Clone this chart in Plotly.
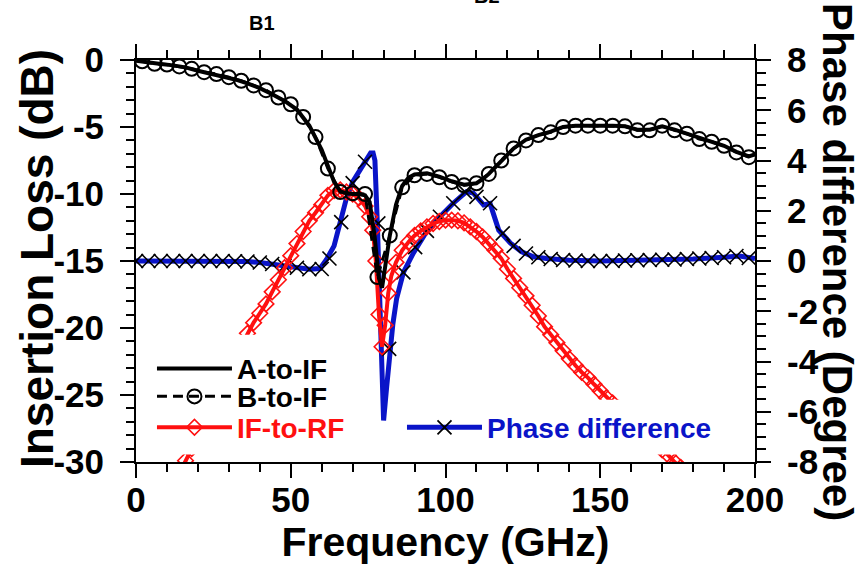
import plotly.graph_objects as go

# ---------------- data ----------------
# A-to-IF (dense solid line), dB
freq_a = [0, 4, 8, 12, 16, 20, 24, 28, 32, 36, 40, 44, 48, 52, 56, 60, 62, 64, 66, 68, 70, 72, 74,
          75.5, 77, 78.5, 79.5, 80.5, 82, 84, 86, 88, 90, 94, 98, 102, 106, 110, 112, 114, 118, 122,
          126, 130, 134, 138, 142, 146, 150, 154, 158, 162, 166, 170, 174, 178, 182, 186, 190, 194, 198, 200]
loss_a = [-0.05, -0.2, -0.3, -0.4, -0.55, -0.8, -1.0, -1.2, -1.45, -1.75, -2.1, -2.55, -3.05, -3.7, -4.9,
          -6.7, -8.0, -9.1, -9.8, -9.95, -10.0, -10.0, -10.1, -10.6, -13.0, -16.3, -17.0, -15.5, -13.1,
          -10.8, -9.4, -8.8, -8.55, -8.45, -8.7, -9.05, -9.3, -9.2, -8.9, -8.5, -7.5, -6.6, -5.95, -5.6,
          -5.35, -5.0, -4.9, -4.88, -4.88, -4.9, -4.95, -5.2, -5.2, -4.95, -5.2, -5.5, -5.85, -6.1, -6.4,
          -6.85, -7.2, -7.05]

# B-to-IF (dashed, open circles), dB
freq_b = [2, 6, 10, 14, 18, 22, 26, 30, 34, 38, 42, 46, 50, 54, 58, 62, 66, 70, 74, 78, 82, 86, 90, 94,
          98, 102, 106, 110, 114, 118, 122, 126, 130, 134, 138, 142, 146, 150, 154, 158, 162, 166, 170,
          174, 178, 182, 186, 190, 194, 198]
loss_b = [-0.1, -0.28, -0.34, -0.48, -0.66, -0.91, -1.05, -1.28, -1.55, -1.9, -2.25, -2.8, -3.3, -4.25,
          -5.75, -8.1, -9.85, -9.95, -10.0, -16.2, -13.1, -9.5, -8.6, -8.5, -8.75, -9.1, -9.35, -9.2,
          -8.5, -7.5, -6.6, -6.0, -5.6, -5.4, -5.0, -4.9, -4.9, -4.9, -4.9, -4.95, -5.25, -5.25, -4.9,
          -5.25, -5.5, -5.9, -6.1, -6.4, -6.9, -7.25]

# IF-to-RF (red, open diamonds), dB
freq_rf = [12, 14, 16, 18, 20, 22, 24, 26, 28, 30, 32, 34, 36, 38, 40, 42, 44, 46, 48, 50, 52, 54, 56,
           58, 60, 62, 64, 66, 68, 70, 72, 74, 75.5, 76.5, 77.5, 78.5, 79.5, 80.5, 81.5, 82.5, 84, 86,
           88, 90, 92, 94, 96, 98, 100, 102, 104, 106, 108, 110, 112, 114, 116, 118, 120, 122, 124, 126,
           128, 130, 132, 134, 136, 138, 140, 142, 144, 146, 148, 150, 152, 154, 156, 158, 160, 162,
           164, 166, 168, 170, 172, 174, 176, 178]
loss_rf = [-31.8, -30.9, -29.9, -29.0, -28.0, -27.0, -26.0, -25.0, -24.0, -23.1, -22.2, -21.3, -20.4,
           -19.6, -18.9, -18.2, -17.3, -16.4, -15.5, -14.6, -13.7, -12.8, -12.0, -11.4, -10.8, -10.1,
           -9.75, -9.7, -9.85, -10.0, -10.3, -10.9, -11.7, -12.7, -15.0, -19.0, -21.4, -19.8, -17.4,
           -16.1, -15.1, -14.2, -13.6, -13.1, -12.75, -12.45, -12.2, -12.05, -11.95, -11.95, -12.0,
           -12.15, -12.45, -12.8, -13.2, -13.7, -14.2, -14.8, -15.6, -16.3, -17.0, -17.6, -18.3, -19.1,
           -19.9, -20.5, -21.1, -21.7, -22.3, -22.8, -23.3, -23.7, -24.2, -24.7, -25.2, -25.6, -26.0,
           -26.4, -26.9, -27.3, -27.8, -28.2, -28.6, -29.1, -29.5, -30.0, -30.4, -30.9]

# Phase difference (blue line), degree
freq_ph = [0, 10, 20, 30, 36, 40, 44, 48, 52, 56, 59.5, 61.5, 64, 66, 68, 70, 73, 75.8, 76.6, 77.2, 78,
           79, 80, 81, 82, 83, 84.2, 86.4, 89.6, 94, 98.2, 102.5, 106.8, 109, 112.3, 114.4, 117.2, 121,
           124.6, 128.4, 132.6, 140, 150, 160, 170, 180, 190, 195, 200]
phase = [0.0, 0.0, 0.0, 0.0, -0.02, -0.06, -0.12, -0.2, -0.27, -0.33, -0.3, 0.05, 0.6, 1.6, 2.5, 3.15,
         3.75, 4.3, 4.3, 4.0, 1.4, -2.4, -6.35, -5.0, -3.6, -2.5, -1.5, -0.45, 0.31, 1.2, 1.76, 2.3,
         2.76, 2.7, 2.23, 2.29, 1.23, 0.71, 0.37, 0.17, 0.1, 0.03, 0.0, 0.02, 0.05, 0.08, 0.15, 0.2, 0.1]

# Phase difference markers (x)
freq_phm = [0, 4, 8, 12, 16, 20, 24, 28, 32, 36, 40, 44, 48, 52, 56, 60, 62.5, 66.3, 70, 74, 78.3,
            81.8, 86.4, 90.2, 94, 98.2, 102.5, 106.3, 110, 114.4, 118.5, 122, 126, 130, 134, 138, 142,
            146, 150, 154, 158, 162, 166, 170, 174, 178, 182, 186, 190, 194, 198]
phase_m = [0.0, 0.0, 0.0, 0.0, 0.0, 0.0, 0.0, 0.0, -0.01, -0.02, -0.06, -0.12, -0.2, -0.27, -0.33, -0.32,
           0.1, 1.55, 3.1, 3.95, 1.5, -3.5, -0.45, 0.55, 1.2, 1.76, 2.3, 2.75, 2.55, 2.3, 1.1, 0.6, 0.3,
           0.15, 0.08, 0.04, 0.02, 0.0, 0.0, 0.0, 0.02, 0.03, 0.04, 0.05, 0.06, 0.08, 0.1, 0.12, 0.15,
           0.2, 0.12]

# tick labels
freq_ticks = [0, 50, 100, 150, 200]
freq_labels = ["0", "50", "100", "150", "200"]
loss_ticks = [0, -5, -10, -15, -20, -25, -30]
loss_labels = ["0", "-5", "-10", "-15", "-20", "-25", "-30"]
phase_ticks = [8, 6, 4, 2, 0, -2, -4, -6, -8]
phase_labels = ["8", "6", "4", "2", "0", "-2", "-4", "-6", "-8"]

FONT = "Liberation Sans, Arial, sans-serif"
BLUE = "#0a14c8"
RED = "#ff1010"

fig = go.Figure()

# phase traces on base axis (y, right side), drawn beneath loss traces
fig.add_trace(go.Scatter(x=freq_ph, y=phase, mode="lines", yaxis="y", showlegend=False,
                         line=dict(color=BLUE, width=5)))
fig.add_trace(go.Scatter(x=freq_phm, y=phase_m, mode="markers", yaxis="y", showlegend=False,
                         marker=dict(symbol="x-thin", size=14, color="black",
                                     line=dict(color="black", width=1.6))))

# loss traces on y2 (left side)
fig.add_trace(go.Scatter(x=freq_rf, y=loss_rf, mode="lines+markers", yaxis="y2", name="IF-to-RF",
                         legend="legend3",
                         line=dict(color=RED, width=4),
                         marker=dict(symbol="diamond-open", size=12, color=RED,
                                     line=dict(color=RED, width=1.6))))
fig.add_trace(go.Scatter(x=freq_b, y=loss_b, mode="lines+markers", yaxis="y2", name="B-to-IF",
                         legend="legend2",
                         line=dict(color="black", width=3, dash="10px,6px"),
                         marker=dict(symbol="circle-open", size=14, color="black",
                                     line=dict(color="black", width=2))))
fig.add_trace(go.Scatter(x=freq_a, y=loss_a, mode="lines", yaxis="y2", name="A-to-IF",
                         legend="legend", line=dict(color="black", width=4)))

# legend entry for phase difference (also hosts the top frequency axis)
fig.add_trace(go.Scatter(x=[None], y=[None], mode="lines+markers", xaxis="x2", yaxis="y",
                         name="Phase difference", legend="legend4",
                         line=dict(color=BLUE, width=5),
                         marker=dict(symbol="x-thin", size=14, color="black",
                                     line=dict(color="black", width=1.8))))


def leg(y, color, x=0.0258):
    return dict(x=x, y=y, xanchor="left", yanchor="middle", bgcolor="rgba(0,0,0,0)", borderwidth=0,
                itemwidth=75, font=dict(family=FONT, size=28, color=color, weight="bold"))


def axis_common():
    return dict(showgrid=False, zeroline=False, showline=True, linecolor="black", linewidth=2,
                ticks="outside", ticklen=14, tickwidth=2, tickcolor="black", automargin=False,
                tickfont=dict(family=FONT, size=35, weight="bold"))


fig.update_layout(
    width=864, height=565,
    margin=dict(l=136, r=109, t=59.5, b=102.5, pad=0, autoexpand=False),
    paper_bgcolor="white", plot_bgcolor="white",
    font=dict(family=FONT, color="black"),
    legend=leg(0.232, "black"),
    legend2=leg(0.1625, "black"),
    legend3=leg(0.0856, RED),
    legend4=leg(0.0856, BLUE, x=0.4297),
    xaxis=dict(**axis_common(), range=[0, 200], tickmode="array", tickvals=freq_ticks, ticktext=freq_labels,
               ticklabelstandoff=-8,
               minor=dict(tick0=0, dtick=10, ticks="outside", ticklen=8, tickwidth=1.5, tickcolor="black"),
               title=dict(text="Frequency (GHz)", standoff=12,
                          font=dict(family=FONT, size=41, weight="bold"))),
    xaxis2=dict(range=[0, 200], overlaying="x", side="top", anchor="y", automargin=False,
                showgrid=False, zeroline=False, showline=True, linecolor="black", linewidth=2,
                tickmode="linear", tick0=0, dtick=50, ticks="outside", ticklen=14, tickwidth=2,
                tickcolor="black", showticklabels=False,
                minor=dict(tick0=0, dtick=10, ticks="outside", ticklen=8, tickwidth=1.5, tickcolor="black")),
    yaxis=dict(**axis_common(), range=[-8, 8], side="right", tickmode="array", tickvals=phase_ticks,
               ticktext=phase_labels, ticklabelstandoff=9,
               minor=dict(tick0=0, dtick=0.5, ticks="outside", ticklen=9, tickwidth=1.5, tickcolor="black")),
    yaxis2=dict(**axis_common(), range=[-30, 0], side="left", overlaying="y", tickmode="array",
                tickvals=loss_ticks, ticktext=loss_labels, ticklabelstandoff=9,
                minor=dict(tick0=0, dtick=1, ticks="outside", ticklen=8, tickwidth=1.5, tickcolor="black")),
    shapes=[
        # white backgrounds behind the two legend blocks
        dict(type="rect", xref="paper", yref="paper", x0=0.0226, x1=0.378, y0=0.0186, y1=0.3164,
             fillcolor="white", line=dict(width=0), layer="above"),
        dict(type="rect", xref="paper", yref="paper", x0=0.4233, x1=0.9564, y0=0.0186, y1=0.1551,
             fillcolor="white", line=dict(width=0), layer="above"),
    ],
    annotations=[
        dict(text="Insertion Loss (dB)", xref="paper", yref="paper", x=-0.1599, y=0.505,
             xanchor="center", yanchor="middle", textangle=-90, showarrow=False,
             font=dict(family=FONT, size=46, weight="bold", color="black")),
        dict(text="Phase difference (Degree)", xref="paper", yref="paper", x=1.1341, y=0.4975,
             xanchor="center", yanchor="middle", textangle=90, showarrow=False,
             font=dict(family=FONT, size=42, weight="bold", color="black")),
        dict(text="B1", xref="paper", yref="paper", x=0.2036, y=1.093, xanchor="center",
             yanchor="middle", showarrow=False, font=dict(family=FONT, size=20, weight="bold")),
        dict(text="B2", xref="paper", yref="paper", x=0.567, y=1.158, xanchor="center",
             yanchor="middle", showarrow=False, font=dict(family=FONT, size=20, weight="bold")),
    ],
)

fig.write_html("out.html", config={"displayModeBar": False},
               post_script="document.body.style.margin='0px';")
